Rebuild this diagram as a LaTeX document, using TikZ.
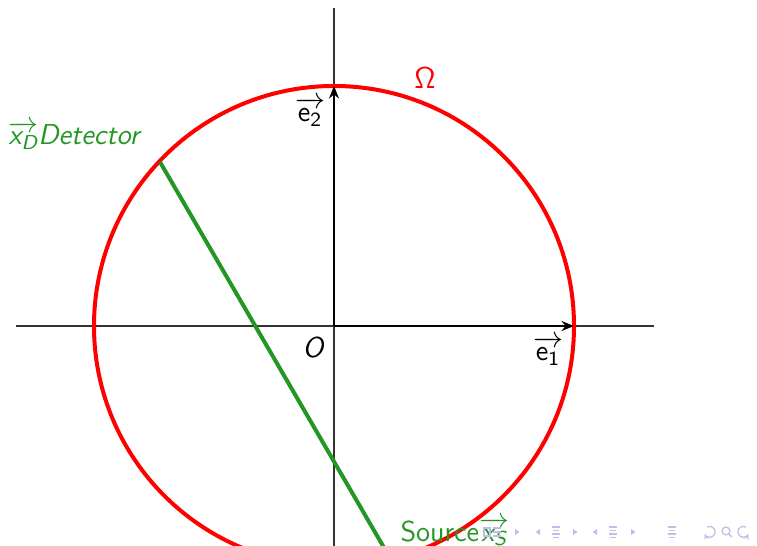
\documentclass[tikz,border=0pt]{standalone}
\usepackage{amsmath}
\usetikzlibrary{arrows.meta}
\newcommand{\sfit}[1]{\text{\sffamily\slshape #1}}
\newcommand{\sfup}[1]{\text{\sffamily\upshape #1}}
\definecolor{detgreen}{RGB}{35,150,35}
\definecolor{navcol}{RGB}{190,190,232}

\begin{document}
\begin{tikzpicture}[x=0.4pt, y=0.4pt,
    axis/.style={draw=black!80, line width=0.45pt},
    basis/.style={-{Stealth[length=5pt, width=4pt]}, line width=0.8pt},
    lbl/.style={font=\fontsize{11.5}{14}\selectfont\sffamily, inner sep=1pt},
    navi/.style={draw=navcol, line width=0.5pt},
    navtri/.style={fill=navcol}]
\useasboundingbox (-334,-219) rectangle (423,326);

% axes
\coordinate (O) at (0,0);
\coordinate (xmin) at (-318,0);
\coordinate (xmax) at (320,0);
\coordinate (ymin) at (0,-230);
\coordinate (ymax) at (0,318);
\draw[axis] (xmin) -- (xmax);
\draw[axis] (ymin) -- (ymax);

% domain
\draw[red, line width=1.6pt] (O) circle (240);

% detector -- source
\coordinate (det) at (136.7:239);
\coordinate (src) at (-76.4:239);
\draw[detgreen, line width=1.6pt] (det) -- (src);

% basis
\coordinate (e1) at (240,0);
\coordinate (e2) at (0,240);
\draw[basis] (O) -- (e1);
\draw[basis] (O) -- (e2);

% labels
\node[lbl] (olbl) at (-21,-22) {$\sfit{O}$};
\node[lbl] (e1lbl) at (214,-25) {$\overrightarrow{\sfup{e}_{\sfup{1}}}$};
\node[lbl] (e2lbl) at (-24,214) {$\overrightarrow{\sfup{e}_{\sfup{2}}}$};
\node[lbl, text=red] (omega) at (91,248) {$\mathsf{\Omega}$};
\node[lbl, text=detgreen, anchor=base west] (detlbl) at (-328.5,181)
  {$\overrightarrow{\sfit{x}_{\sfit{D}}}\sfit{Detector}$};
\node[lbl, text=detgreen, anchor=base west] (srclbl) at (63.5,-215)
  {Source$\overrightarrow{\sfit{x}_{\sfit{S}}}$};

% navigation symbols
\draw[navi] (150,-202) rectangle (156,-210);
\foreach \y in {-202,-206,-210} \draw[navi] (159,\y) -- (167,\y);
\foreach \x in {183,241,299}
  \fill[navtri] (\x-2,-203) -- (\x-2,-209) -- (\x+2.5,-206) -- cycle;
\foreach \x in {204,261}
  \fill[navtri] (\x+2,-203) -- (\x+2,-209) -- (\x-2.5,-206) -- cycle;
\foreach \x in {222,279,338}
  \foreach \y/\w in {-201/4,-204.5/3,-208/4,-211.5/3}
    \draw[navi] (\x-\w,\y) -- (\x+\w,\y);
\draw[navi, -{Stealth[length=2.5pt]}] (373,-201) arc[start angle=120, end angle=-160, radius=5.5];
\draw[navi] (392,-205) circle (4);
\draw[navi] (395,-208) -- (398,-211);
\draw[navi, -{Stealth[length=2.5pt]}] (412,-201) arc[start angle=60, end angle=340, radius=5.5];
\end{tikzpicture}
\end{document}
